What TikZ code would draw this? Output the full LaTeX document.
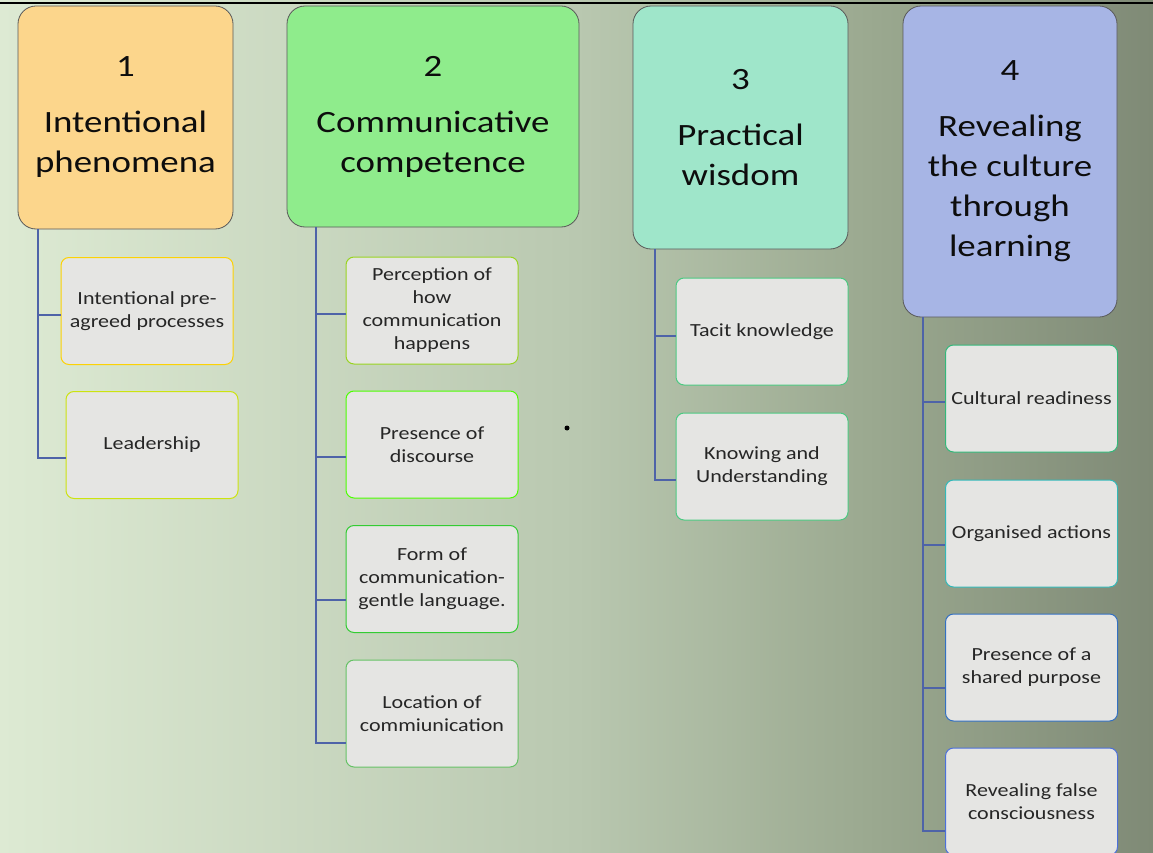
\documentclass[tikz,border=0pt]{standalone}
\usepackage{fontspec}
\setmainfont{Carlito}[FakeStretch=1.19]
\usetikzlibrary{calc}
\definecolor{bgA}{HTML}{DDEAD3}
\definecolor{bgB}{HTML}{B9C8B0}
\definecolor{bgC}{HTML}{9AA88F}
\definecolor{bgD}{HTML}{7F8A76}
% the filled path spans 25bp..75bp of the declared shading
\pgfdeclarehorizontalshading{bgshade}{100bp}{
  color(0bp)=(bgA); color(25bp)=(bgA); color(50bp)=(bgB);
  color(63bp)=(bgC); color(75bp)=(bgD); color(100bp)=(bgD)}
\definecolor{headA}{HTML}{FCD68C}
\definecolor{headB}{HTML}{8FEC8C}
\definecolor{headC}{HTML}{9FE6CA}
\definecolor{headD}{HTML}{A7B5E5}
\definecolor{linkblue}{HTML}{4E63A8}
\definecolor{leaf}{HTML}{E5E5E3}
\tikzset{
  x=1pt, y=-1pt,
  headbox/.style={draw=black!65, line width=0.8pt, rounded corners=18pt,
    align=center, inner sep=0pt, text=black!95,
    font=\fontsize{31}{40}\selectfont},
  leafbox/.style={draw=#1, line width=1pt, fill=leaf, rounded corners=8pt,
    minimum width=172pt, minimum height=107pt, align=center, inner sep=0pt,
    text=black!85, font=\fontsize{18.5}{23}\selectfont},
  conn/.style={draw=linkblue, line width=2pt},
}
\begin{document}
\begin{tikzpicture}
% backdrop and top rule
\shade[shading=bgshade] (0,0) rectangle (1153,853);
\useasboundingbox (0,0) rectangle (1153,853);
\draw[line width=2pt, black] (0,3) -- (1153,3);

% column heads
\node[headbox, fill=headA, minimum width=215pt, minimum height=223pt]
  (h1) at (125.5,117.5) {1\\[16pt]Intentional\\phenomena};
\node[headbox, fill=headB, minimum width=292pt, minimum height=221pt]
  (h2) at (433,116.5) {2\\[16pt]Communicative\\competence};
\node[headbox, fill=headC, minimum width=215pt, minimum height=243pt]
  (h3) at (740.5,127.5) {3\\[16pt]Practical\\wisdom};
\node[headbox, fill=headD, minimum width=214pt, minimum height=311pt]
  (h4) at (1010,161.5) {4\\[16pt]Revealing\\the culture\\through\\learning};

% items under column 1
\node[leafbox=yellow!70!orange] (a1) at (147,311) {Intentional pre-\\agreed processes};
\node[leafbox=yellow!80!green] (a2) at (152,445) {Leadership};

% items under column 2
\node[leafbox=yellow!60!green] (b1) at (432,310.5) {Perception of\\how\\communication\\happens};
\node[leafbox=green!70!yellow] (b2) at (432,444.5) {Presence of\\discourse};
\node[leafbox=green!75!black!80] (b3) at (432,579) {Form of\\communication-\\gentle language.};
\node[leafbox=green!60!black!60] (b4) at (432,713.5) {Location of\\commiunication};

% items under column 3
\node[leafbox=teal!60!green!70] (c1) at (762,331.5) {Tacit knowledge};
\node[leafbox=teal!60!green!70] (c2) at (762,466.5) {Knowing and\\Understanding};

% items under column 4
\node[leafbox=teal!70!green!80] (d1) at (1031.5,398.5) {Cultural readiness};
\node[leafbox=teal!70!cyan!80] (d2) at (1031.5,533.5) {Organised actions};
\node[leafbox=blue!40!teal!80] (d3) at (1031.5,667.5) {Presence of a\\shared purpose};
\node[leafbox=blue!60!teal!70] (d4) at (1031.5,801.5) {Revealing false\\consciousness};

% trunk positions
\coordinate (ta) at (38,0);
\coordinate (tb) at (316,0);
\coordinate (tc) at (655,0);
\coordinate (td) at (923,0);

% connectors
\draw[conn] (ta |- h1.south) |- ([yshift=-4pt]a1.west);
\draw[conn] (ta |- h1.south) |- ([yshift=-13pt]a2.west);
\draw[conn] (tb |- h2.south) |- ([yshift=-3.5pt]b1.west);
\draw[conn] (tb |- h2.south) |- ([yshift=-12.5pt]b2.west);
\draw[conn] (tb |- h2.south) |- ([yshift=-21pt]b3.west);
\draw[conn] (tb |- h2.south) |- ([yshift=-29.5pt]b4.west);
\draw[conn] (tc |- h3.south) |- ([yshift=-4.5pt]c1.west);
\draw[conn] (tc |- h3.south) |- ([yshift=-13.5pt]c2.west);
\draw[conn] (td |- h4.south) |- ([yshift=-3.5pt]d1.west);
\draw[conn] (td |- h4.south) |- ([yshift=-11.5pt]d2.west);
\draw[conn] (td |- h4.south) |- ([yshift=-20.5pt]d3.west);
\draw[conn] (td |- h4.south) |- ([yshift=-29.5pt]d4.west);

% stray dot
\fill[black] (567,428) circle (2.5pt);
\end{tikzpicture}
\end{document}
